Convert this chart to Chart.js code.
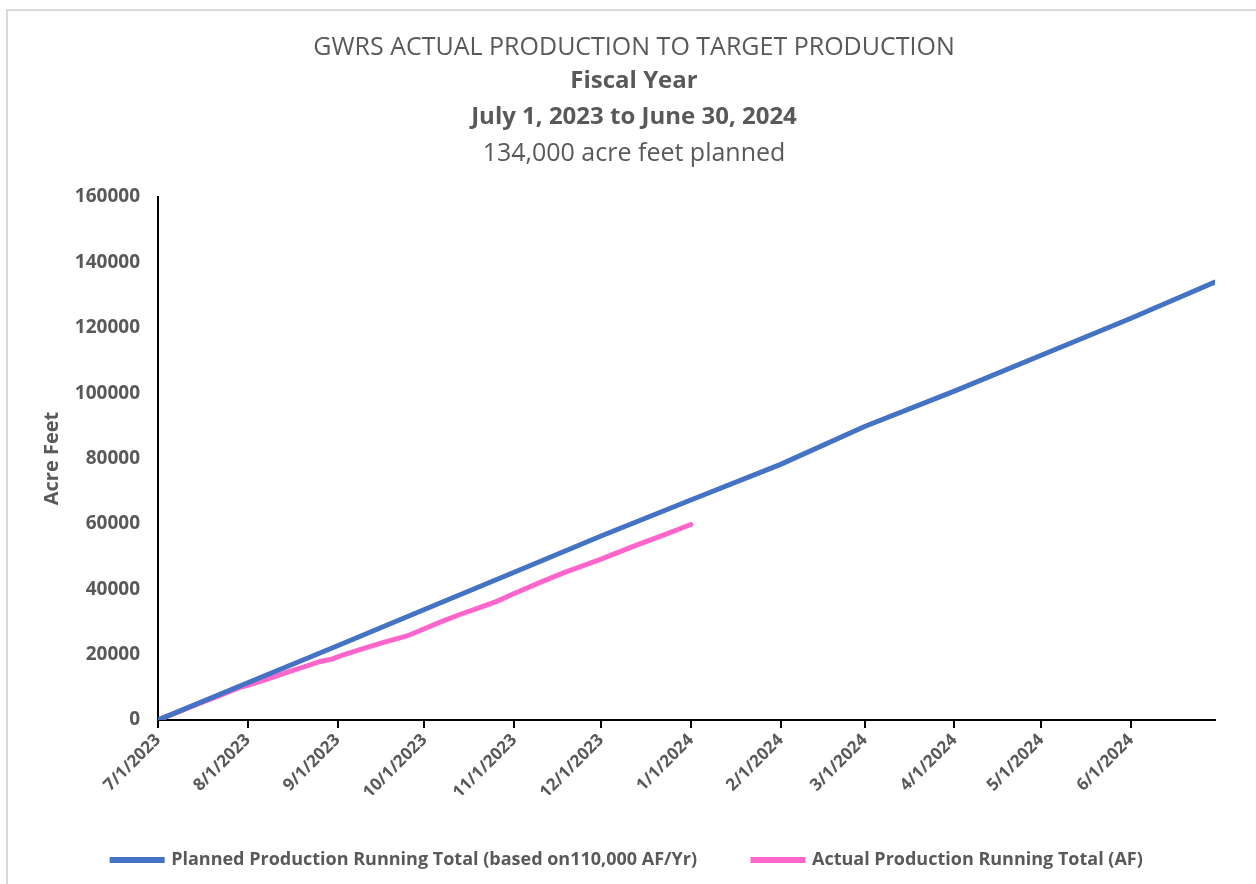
<!DOCTYPE html>
<html>
<head>
<meta charset="utf-8">
<script src="https://cdn.jsdelivr.net/npm/chart.js@4.4.1/dist/chart.umd.min.js"></script>
<style>
  html, body { margin:0; padding:0; background:#fff; }
  #wrap { position:relative; width:1256px; height:884px; overflow:hidden; }
  #frame { position:absolute; left:6px; top:9px; width:1300px; height:900px; border:2px solid #D9D9D9; box-sizing:border-box; }
  #titles { position:absolute; left:0; top:0; width:1268px; text-align:center; color:#595959; font-family:"Open Sans", sans-serif; }
  #titles div { position:absolute; left:0; width:100%; line-height:36px; font-size:25px; }
  canvas { position:absolute; left:0; top:0; }
</style>
</head>
<body>
<div id="wrap">
  <div id="frame"></div>
  <canvas id="c" width="1256" height="884"></canvas>
  <div id="titles">
    <div style="top:27px;">GWRS ACTUAL PRODUCTION TO TARGET PRODUCTION</div>
    <div style="top:61px;font-weight:bold;font-size:24px;">Fiscal Year</div>
    <div style="top:97px;font-weight:bold;font-size:24px;">July 1, 2023 to June 30, 2024</div>
    <div style="top:133px;">134,000 acre feet planned</div>
  </div>
</div>
<script>
// x values are days since 7/1/2023
const tickDays   = [0, 31, 62, 92, 123, 153, 184, 215, 244, 275, 305, 336];
const tickLabels = ['7/1/2023','8/1/2023','9/1/2023','10/1/2023','11/1/2023','12/1/2023',
                    '1/1/2024','2/1/2024','3/1/2024','4/1/2024','5/1/2024','6/1/2024'];

const planDays   = [0, 31, 62, 92, 123, 153, 184, 215, 244, 275, 305, 336, 365];
const planValues = [0, 11400, 22700, 33800, 45200, 56300, 67300, 78200, 89800, 100600, 111600, 122900, 134000];

const actualDays   = [0, 7, 14, 21, 28, 31, 38, 45, 52, 56, 60, 63, 70, 77, 86, 92, 97, 104, 111, 117, 123,
                      133, 140, 153, 165, 175, 184];
const actualValues = [0, 2500, 5000, 7400, 9900, 10600, 12600, 14700, 16700, 17900, 18600, 19600, 21600, 23500,
                      25700, 27900, 29800, 32200, 34400, 36300, 38700, 42500, 45000, 49200, 53400, 56700, 59800];

const seriesNames = ['Planned Production Running Total (based on110,000 AF/Yr)', 'Actual Production Running Total (AF)'];

const gray = '#595959';
const fontFam = '"Open Sans", sans-serif';

new Chart(document.getElementById('c'), {
  type: 'line',
  data: {
    datasets: [
      {
        label: seriesNames[0],
        data: planDays.map((d, i) => ({x: d, y: planValues[i]})),
        borderColor: '#4472C4', backgroundColor: '#4472C4',
        borderWidth: 5, pointRadius: 0, tension: 0, borderCapStyle: 'round'
      },
      {
        label: seriesNames[1],
        data: actualDays.map((d, i) => ({x: d, y: actualValues[i]})),
        borderColor: '#FF66CC', backgroundColor: '#FF66CC',
        borderWidth: 5, pointRadius: 0, tension: 0, borderCapStyle: 'round'
      }
    ]
  },
  options: {
    responsive: false,
    animation: false,
    layout: { padding: { left: 40, right: 41, top: 197, bottom: 5 } },
    plugins: {
      tooltip: { enabled: false },
      title: { display: false },
      legend: {
        position: 'bottom',
        labels: {
          boxWidth: 50, boxHeight: 1, padding: 56,
          color: gray,
          font: { family: fontFam, size: 18, weight: 'bold' }
        }
      }
    },
    scales: {
      x: {
        type: 'linear', min: 0, max: 365,
        afterBuildTicks: (scale) => { scale.ticks = tickDays.map(v => ({value: v})); },
        afterFit: (scale) => { scale.height = 75; },
        ticks: {
          autoSkip: false, maxRotation: 45, minRotation: 45, padding: 2,
          color: gray, font: { family: fontFam, size: 17, weight: 'bold' },
          callback: (v) => { const i = tickDays.indexOf(v); return i >= 0 ? tickLabels[i] : ''; }
        },
        grid: { display: true, drawOnChartArea: false, drawTicks: true, tickLength: 8, color: '#000', lineWidth: 2 },
        border: { display: true, color: '#000', width: 2 }
      },
      y: {
        min: 0, max: 160000,
        afterFit: (scale) => { scale.width = 118; },
        ticks: {
          stepSize: 20000, padding: 18,
          color: gray, font: { family: fontFam, size: 19, weight: 'bold' },
          callback: (v) => String(v)
        },
        grid: { display: false, drawTicks: false },
        border: { display: true, color: '#000', width: 2 },
        title: {
          display: true, text: 'Acre Feet', color: gray,
          font: { family: fontFam, size: 20, weight: 'bold' }, padding: 0
        }
      }
    }
  }
});
</script>
</body>
</html>
